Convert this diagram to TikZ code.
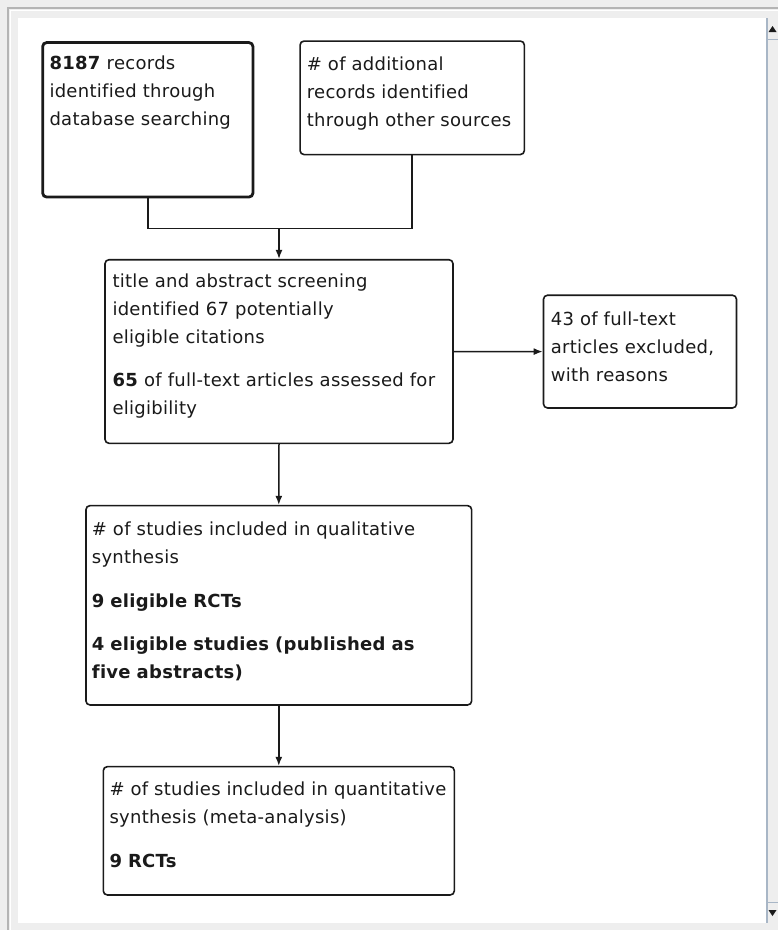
\documentclass[tikz,border=0pt]{standalone}
\usepackage{fontspec}
\setmainfont{DejaVu Sans}[LetterSpace=1.6, Ligatures={NoCommon}]
\usetikzlibrary{arrows.meta}

\definecolor{winbg}{HTML}{EEEEEE}
\definecolor{winedge}{HTML}{B4B4B4}
\definecolor{sbedge}{HTML}{A8B6C6}
\definecolor{ink}{HTML}{1A1A1A}

\tikzset{
  box/.style={draw=ink, line width=1.6pt, rounded corners=4pt, fill=white, inner sep=0pt},
  thickbox/.style={box, line width=2.8pt},
  txt/.style={anchor=base west, inner sep=0pt, text width=420pt, align=left,
              text=ink, font=\fontsize{18}{28}\selectfont},
  link/.style={draw=ink, line width=1.5pt},
  flow/.style={link, -{Latex[length=9pt,width=7pt]}},
}

\begin{document}
\begin{tikzpicture}[x=1pt, y=-1pt]
  % window frame and scroll pane
  \fill[winbg] (0,0) rectangle (778,930);
  \useasboundingbox (0,0) rectangle (778,930);
  \draw[winedge, line width=1.5pt] (8,930) -- (8,8) -- (778,8);
  \draw[white, line width=1pt] (10.5,930) -- (10.5,10.5) -- (778,10.5);
  \fill[white] (18,18) rectangle (766,923);
  % vertical scrollbar
  \fill[winbg] (767,18) rectangle (778,923);
  \draw[sbedge, line width=1.2pt] (767,18) -- (767,923);
  \draw[sbedge, line width=0.8pt] (768,39) -- (778,39);
  \draw[sbedge, line width=0.8pt] (768,902) -- (778,902);
  \fill[ink] (772.5,26) -- (776.5,32) -- (768.5,32) -- cycle;
  \fill[ink] (772.5,916) -- (776.5,910) -- (768.5,910) -- cycle;

  % boxes
  \node[thickbox, minimum width=210.3pt, minimum height=154.5pt] (A) at (147.8,119.8) {};
  \node[box, minimum width=224.3pt, minimum height=113.5pt] (B) at (412.2,97.8) {};
  \node[box, minimum width=348pt, minimum height=183.6pt] (C) at (279,351.5) {};
  \node[box, minimum width=193pt, minimum height=112.7pt] (D) at (640,351.6) {};
  \node[box, minimum width=385.7pt, minimum height=199.3pt] (E) at (278.8,605.3) {};
  \node[box, minimum width=351pt, minimum height=128.3pt] (F) at (278.8,830.8) {};

  % box texts
  \node[txt] (tA) at (49.3,69.5) {\textbf{8187} records\\identified through\\database searching};
  \node[txt] (tB) at (306.7,70) {\# of additional\\records identified\\through other sources};
  \node[txt] (tC) at (112.3,287.3) {title and abstract screening\\identified 67 potentially\\eligible citations\\[15pt]\textbf{65} of full-text articles assessed for\\eligibility};
  \node[txt] (tD) at (550.7,325) {43 of full-text\\articles excluded,\\with reasons};
  \node[txt] (tE) at (91.7,535) {\# of studies included in qualitative\\synthesis\\[16pt]\textbf{9 eligible RCTs}\\[15pt]\textbf{4 eligible studies (published as}\\\textbf{five abstracts)}};
  \node[txt] (tF) at (109.3,795) {\# of studies included in quantitative\\synthesis (meta-analysis)\\[16pt]\textbf{9 RCTs}};

  % connectors
  \coordinate (jn) at ([yshift=30.3pt]C.north);
  \draw[link] (A.south) |- (jn) -| (B.south);
  \draw[flow] (jn) -- (C.north);
  \draw[flow] (C.east) -- (D.west);
  \draw[flow] (C.south) -- (E.north);
  \draw[flow] (E.south) -- (F.north);
\end{tikzpicture}
\end{document}
